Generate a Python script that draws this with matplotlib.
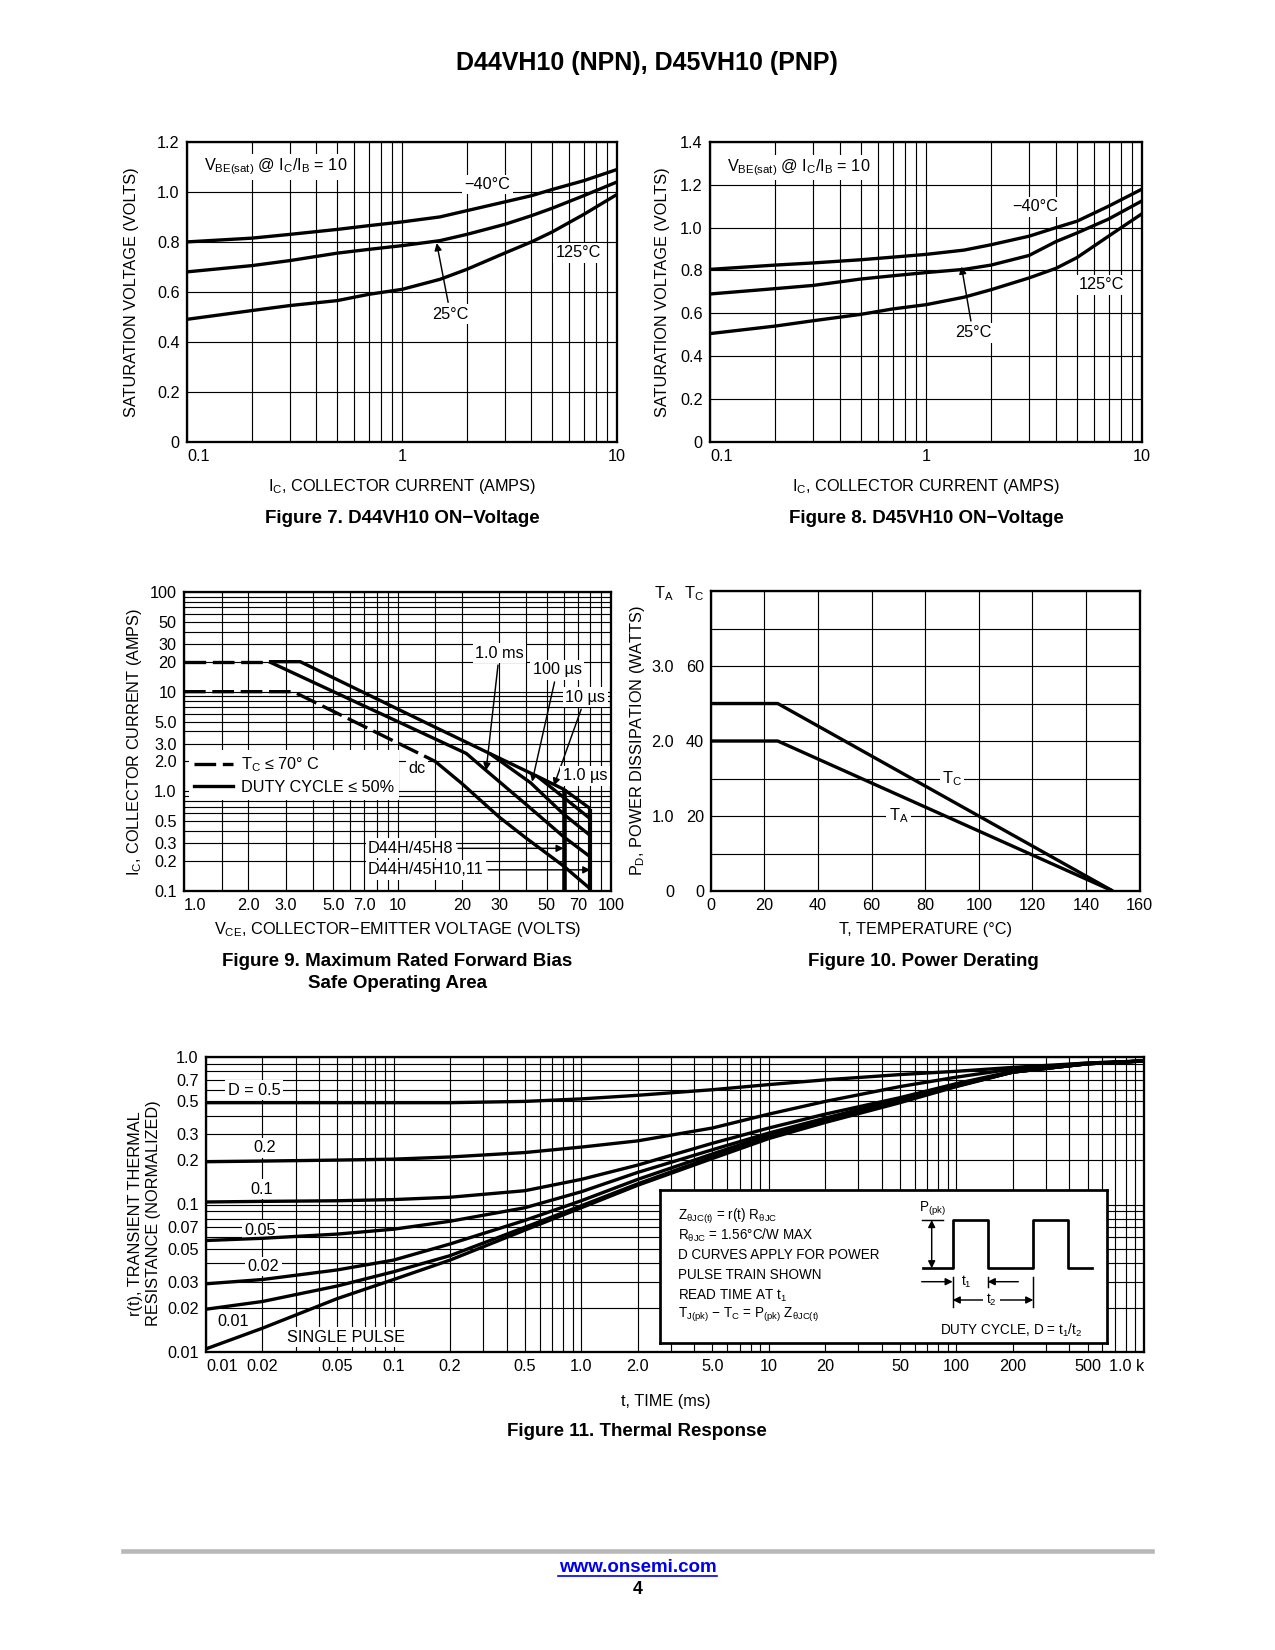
import numpy as np
import matplotlib.pyplot as plt
from matplotlib import font_manager
from matplotlib.lines import Line2D
from matplotlib.ticker import FixedLocator, LogLocator, NullFormatter

installed = {f.name for f in font_manager.fontManager.ttflist}
SANS = 'Liberation Sans' if 'Liberation Sans' in installed else 'DejaVu Sans'
NARROW = 'Liberation Sans Narrow' if 'Liberation Sans Narrow' in installed else SANS
plt.rcParams['font.family'] = [SANS, 'DejaVu Sans']
plt.rcParams['mathtext.fontset'] = 'custom'
plt.rcParams['mathtext.rm'] = SANS
plt.rcParams['mathtext.default'] = 'regular'

# ---------------- data ----------------
# Figure 7: D44VH10 V_BE(sat) vs I_C
ic7 = [0.1, 0.2, 0.3, 0.5, 0.7, 1, 1.5, 2, 3, 4, 5, 7, 10]
vbe7_m40 = [0.80, 0.815, 0.83, 0.85, 0.865, 0.88, 0.90, 0.925, 0.96, 0.985, 1.01, 1.045, 1.09]
vbe7_25 = [0.68, 0.705, 0.725, 0.755, 0.77, 0.785, 0.805, 0.83, 0.87, 0.905, 0.935, 0.985, 1.04]
vbe7_125 = [0.49, 0.525, 0.545, 0.565, 0.59, 0.61, 0.65, 0.69, 0.755, 0.80, 0.84, 0.91, 0.99]

# Figure 8: D45VH10 V_BE(sat) vs I_C
ic8 = [0.1, 0.2, 0.3, 0.5, 0.7, 1, 1.5, 2, 3, 4, 5, 7, 10]
vbe8_m40 = [0.805, 0.825, 0.835, 0.85, 0.862, 0.875, 0.895, 0.92, 0.96, 1.0, 1.03, 1.10, 1.18]
vbe8_25 = [0.69, 0.715, 0.73, 0.76, 0.775, 0.79, 0.805, 0.825, 0.87, 0.935, 0.975, 1.04, 1.125]
vbe8_125 = [0.505, 0.54, 0.565, 0.595, 0.62, 0.64, 0.675, 0.71, 0.765, 0.81, 0.86, 0.96, 1.065]

# Figure 9: safe operating area
soa_dc_tc_v = [1.0, 3.25, 15]          # Tc <= 70 C (dashed)
soa_dc_tc_i = [10, 10, 2.0]
soa_20a_tc_v = [1.0, 2.5]
soa_20a_tc_i = [20, 20]
soa_dc_v = [15, 20, 30, 40, 60, 80]
soa_dc_i = [2.0, 1.2, 0.55, 0.34, 0.178, 0.105]
soa_1ms_v = [2.5, 21, 26, 40, 60, 80]
soa_1ms_i = [20, 2.4, 1.62, 0.74, 0.35, 0.22]
soa_100us_v = [27, 42, 60, 80]
soa_100us_i = [2.4, 1.22, 0.59, 0.36]
soa_10us_v = [45, 60, 80]
soa_10us_i = [1.42, 0.87, 0.53]
soa_1us_v = [2.5, 3.5, 15, 27, 45, 60, 80]
soa_1us_i = [20, 20, 4.4, 2.4, 1.42, 1.05, 0.67]
limit_h8_v, limit_h8_i = [60, 60], [1.05, 0.1]
limit_h10_v, limit_h10_i = [80, 80], [0.67, 0.1]

# Figure 10: power derating
tc_temp = [0, 25, 150]
tc_power = [50, 50, 0]
ta_temp = [0, 25, 150]
ta_power = [2.0, 2.0, 0]

# Figure 11: thermal response
t_ms = [0.01, 0.02, 0.05, 0.1, 0.2, 0.5, 1, 2, 5, 10, 20, 50, 100, 200, 500, 1000]
r_d50 = [0.49, 0.49, 0.49, 0.49, 0.49, 0.50, 0.52, 0.55, 0.60, 0.65, 0.70, 0.76, 0.80, 0.85, 0.91, 0.94]
r_d20 = [0.195, 0.197, 0.20, 0.203, 0.21, 0.225, 0.245, 0.27, 0.33, 0.41, 0.50, 0.63, 0.73, 0.83, 0.91, 0.94]
r_d10 = [0.104, 0.105, 0.106, 0.108, 0.112, 0.124, 0.148, 0.185, 0.26, 0.33, 0.41, 0.53, 0.66, 0.80, 0.90, 0.94]
r_d05 = [0.057, 0.059, 0.063, 0.068, 0.077, 0.095, 0.122, 0.165, 0.235, 0.305, 0.385, 0.52, 0.65, 0.79, 0.90, 0.94]
r_d02 = [0.029, 0.031, 0.036, 0.042, 0.054, 0.078, 0.106, 0.148, 0.22, 0.295, 0.375, 0.51, 0.64, 0.79, 0.90, 0.94]
r_d01 = [0.0195, 0.022, 0.028, 0.035, 0.045, 0.07, 0.098, 0.138, 0.21, 0.285, 0.365, 0.50, 0.635, 0.79, 0.90, 0.94]
r_single = [0.0105, 0.0145, 0.023, 0.031, 0.042, 0.067, 0.095, 0.135, 0.205, 0.28, 0.36, 0.49, 0.63, 0.79, 0.90, 0.94]

# ---------------- drawing ----------------
W, H = 1275, 1650
FS = 7.8
LW = 1.6
WHITE = dict(facecolor='white', edgecolor='none', pad=1.2)
ARROW = dict(arrowstyle='-|>', color='black', lw=0.7, mutation_scale=7,
             shrinkA=1, shrinkB=0)
DASH = (0, (6.5, 2))

fig = plt.figure(figsize=(W / 150, H / 150), dpi=150)


def box(left, top, right, bottom):
    return [left / W, 1 - bottom / H, (right - left) / W, (bottom - top) / H]


def prep(ax):
    ax.set_axisbelow(True)
    ax.grid(True, which='both', color='black', linewidth=0.55)
    ax.tick_params(which='both', length=0, labelsize=FS, pad=3.5)
    for sp in ax.spines.values():
        sp.set_linewidth(1.1)


def curve(ax, x, y, **kw):
    kw.setdefault('lw', LW)
    ax.plot(x, y, color='black', zorder=4, solid_capstyle='butt', **kw)


# ---- Figures 7 and 8 ----
vbe_panels = [
    (box(187, 142, 617, 441.7), ic7, [vbe7_m40, vbe7_25, vbe7_125], 1.2,
     [(2.5, 1.03), (6.6, 0.757), (1.68, 0.51), (1.45, 0.795)], 1.1,
     -0.128, 'Figure 7. D44VH10 ON\u2212Voltage'),
    (box(710, 142, 1142, 441.7), ic8, [vbe8_m40, vbe8_25, vbe8_125], 1.4,
     [(3.2, 1.097), (6.46, 0.734), (1.65, 0.508), (1.46, 0.818)], 1.28,
     -0.109, 'Figure 8. D45VH10 ON\u2212Voltage'),
]
for rect, ic, series, ytop, pos, yhead, ylab_x, caption in vbe_panels:
    ax = fig.add_axes(rect)
    ax.set_xscale('log')
    ax.set_xlim(0.1, 10)
    ax.set_ylim(0, ytop)
    ax.set_xticks([0.1, 1, 10], ['0.1', '1', '10'])
    ax.xaxis.set_minor_locator(LogLocator(base=10, subs=np.arange(2, 10), numticks=20))
    ax.xaxis.set_minor_formatter(NullFormatter())
    yt = np.round(np.arange(0, ytop + 0.01, 0.2), 1)
    ax.set_yticks(yt, ['0'] + [f'{v:.1f}' for v in yt[1:]])
    prep(ax)
    ax.get_xticklabels()[0].set_ha('left')
    for s in series:
        curve(ax, ic, s)
    ax.text(*pos[0], '\u221240\u00b0C', fontsize=FS, ha='center', va='center', bbox=WHITE)
    ax.text(*pos[1], '125\u00b0C', fontsize=FS, ha='center', va='center', bbox=WHITE)
    ax.annotate('25\u00b0C', xy=pos[3], xytext=pos[2], fontsize=FS, ha='center',
                va='center', bbox=WHITE, arrowprops=ARROW)
    ax.text(0.12, yhead, '$V_{BE(sat)}$ @ $I_C/I_B$ = 10', fontsize=FS,
            ha='left', va='center', bbox=WHITE)
    ax.set_xlabel('$I_C$, COLLECTOR CURRENT (AMPS)', fontsize=FS)
    ax.xaxis.set_label_coords(0.5, -0.151)
    ax.xaxis.label.set_va('center')
    ax.set_ylabel('SATURATION VOLTAGE (VOLTS)', fontsize=FS)
    ax.yaxis.set_label_coords(ylab_x, 0.5)
    ax.yaxis.label.set_va('center')
    bb = ax.get_position()
    fig.text(bb.x0 + bb.width / 2, 1 - 518.6 / H, caption, fontsize=9,
             fontweight='bold', ha='center', va='center')

# ---- Figure 9 ----
ax9 = fig.add_axes(box(184, 592, 611, 891))
ax9.set_xscale('log')
ax9.set_yscale('log')
ax9.set_xlim(1, 100)
ax9.set_ylim(0.1, 100)
vce_ticks = [1, 2, 3, 5, 7, 10, 20, 30, 50, 70, 100]
vce_labels = ['1.0', '2.0', '3.0', '5.0', '7.0', '10', '20', '30', '50', '70', '100']
ic9_ticks = [0.1, 0.2, 0.3, 0.5, 1, 2, 3, 5, 10, 20, 30, 50, 100]
ic9_labels = ['0.1', '0.2', '0.3', '0.5', '1.0', '2.0', '3.0', '5.0', '10', '20', '30', '50', '100']
ax9.set_xticks(vce_ticks, vce_labels)
ax9.set_yticks(ic9_ticks, ic9_labels)
ax9.xaxis.set_minor_locator(FixedLocator([1.5, 4, 6, 8, 9, 15, 40, 60, 80, 90]))
ax9.yaxis.set_minor_locator(LogLocator(base=10, subs=np.arange(2, 10), numticks=20))
ax9.xaxis.set_minor_formatter(NullFormatter())
ax9.yaxis.set_minor_formatter(NullFormatter())
prep(ax9)
ax9.get_xticklabels()[0].set_ha('left')
curve(ax9, soa_dc_tc_v, soa_dc_tc_i, ls=DASH)
curve(ax9, soa_20a_tc_v, soa_20a_tc_i, ls=DASH)
for v, i in [(soa_dc_v, soa_dc_i), (soa_1ms_v, soa_1ms_i), (soa_100us_v, soa_100us_i),
             (soa_10us_v, soa_10us_i), (soa_1us_v, soa_1us_i)]:
    curve(ax9, v, i)
curve(ax9, limit_h8_v, limit_h8_i, lw=2.2)
curve(ax9, limit_h10_v, limit_h10_i, lw=2.0)
ax9.annotate('1.0 ms', xy=(26, 1.62), xytext=(30, 24.4), fontsize=FS, ha='center',
             va='center', bbox=WHITE, arrowprops=ARROW)
ax9.annotate('100 \u00b5s', xy=(42.7, 1.25), xytext=(56, 16.5), fontsize=FS, ha='center',
             va='center', bbox=WHITE, arrowprops=ARROW)
ax9.annotate('10 \u00b5s', xy=(54, 1.14), xytext=(75.9, 8.77), fontsize=FS, ha='center',
             va='center', bbox=WHITE, arrowprops=ARROW)
ax9.text(75.6, 1.43, '1.0 \u00b5s', fontsize=FS, ha='center', va='center', bbox=WHITE)
ax9.text(12.3, 1.70, 'dc', fontsize=FS, ha='center', va='center', bbox=WHITE)
ax9.annotate('D44H/45H8', xy=(60, 0.268), xytext=(7.28, 0.268), fontsize=FS, ha='left',
             va='center', bbox=WHITE, arrowprops=ARROW)
ax9.annotate('D44H/45H10,11', xy=(80, 0.163), xytext=(7.28, 0.163), fontsize=FS, ha='left',
             va='center', bbox=WHITE, arrowprops=ARROW)
leg = ax9.legend(handles=[Line2D([], [], color='black', lw=LW, ls=DASH),
                          Line2D([], [], color='black', lw=LW)],
                 labels=['$T_C$ \u2264 70\u00b0 C', 'DUTY CYCLE \u2264 50%'],
                 loc='upper left', bbox_to_anchor=(0.012, 0.47), borderaxespad=0,
                 fontsize=FS, frameon=True, fancybox=False, framealpha=1,
                 edgecolor='none', handlelength=2.4, handletextpad=0.5,
                 labelspacing=0.35, borderpad=0.3)
leg.set_zorder(3)
ax9.set_xlabel('$V_{CE}$, COLLECTOR\u2212EMITTER VOLTAGE (VOLTS)', fontsize=FS)
ax9.xaxis.set_label_coords(0.5, -0.129)
ax9.xaxis.label.set_va('center')
ax9.set_ylabel('$I_C$, COLLECTOR CURRENT (AMPS)', fontsize=FS)
ax9.yaxis.set_label_coords(-0.117, 0.5)
ax9.yaxis.label.set_va('center')
fig.text(397 / W, 1 - 961 / H, 'Figure 9. Maximum Rated Forward Bias', fontsize=9,
         fontweight='bold', ha='center', va='center')
fig.text(397 / W, 1 - 984 / H, 'Safe Operating Area', fontsize=9,
         fontweight='bold', ha='center', va='center')

# ---- Figure 10 ----
ax10 = fig.add_axes(box(710.7, 591, 1139.6, 891))
ax10.set_xlim(0, 160)
ax10.set_ylim(0, 80)
ax10.set_xticks(np.arange(0, 161, 20))
ax10.set_yticks([0, 20, 40, 60, 80], ['0', '20', '40', '60', '$T_C$'])
ax10.yaxis.set_minor_locator(FixedLocator([10, 30, 50, 70]))
prep(ax10)
ax10.tick_params(axis='y', pad=3.2)
curve(ax10, tc_temp, tc_power)
ax10.text(90, 30, '$T_C$', fontsize=FS, ha='center', va='center', bbox=WHITE)
ax10.text(70, 20, '$T_A$', fontsize=FS, ha='center', va='center', bbox=WHITE)
ax10b = ax10.twinx()
ax10b.set_ylim(0, 4)
ax10b.yaxis.set_ticks_position('left')
ax10b.set_yticks([0, 1, 2, 3, 4], ['0', '1.0', '2.0', '3.0', '$T_A$'])
ax10b.tick_params(axis='y', length=0, labelsize=FS, pad=17.6)
for sp in ax10b.spines.values():
    sp.set_visible(False)
curve(ax10b, ta_temp, ta_power)
ax10.set_xlabel('T, TEMPERATURE (\u00b0C)', fontsize=FS)
ax10.xaxis.set_label_coords(0.5, -0.129)
ax10.xaxis.label.set_va('center')
ax10.set_ylabel('$P_D$, POWER DISSIPATION (WATTS)', fontsize=FS)
ax10.yaxis.set_label_coords(-0.170, 0.5)
ax10.yaxis.label.set_va('center')
fig.text(923 / W, 1 - 961 / H, 'Figure 10. Power Derating', fontsize=9,
         fontweight='bold', ha='center', va='center')

# ---- Figure 11 ----
ax11 = fig.add_axes(box(206, 1057, 1144, 1352))
ax11.set_xscale('log')
ax11.set_yscale('log')
ax11.set_xlim(0.01, 1000)
ax11.set_ylim(0.01, 1.0)
t_ticks = [0.01, 0.02, 0.05, 0.1, 0.2, 0.5, 1, 2, 5, 10, 20, 50, 100, 200, 500, 1000]
t_labels = ['0.01', '0.02', '0.05', '0.1', '0.2', '0.5', '1.0', '2.0', '5.0', '10', '20',
            '50', '100', '200', '500', '1.0 k']
r_ticks = [0.01, 0.02, 0.03, 0.05, 0.07, 0.1, 0.2, 0.3, 0.5, 0.7, 1.0]
r_labels = ['0.01', '0.02', '0.03', '0.05', '0.07', '0.1', '0.2', '0.3', '0.5', '0.7', '1.0']
ax11.set_xticks(t_ticks, t_labels)
ax11.set_yticks(r_ticks, r_labels)
ax11.xaxis.set_minor_locator(LogLocator(base=10, subs=np.arange(2, 10), numticks=30))
ax11.yaxis.set_minor_locator(LogLocator(base=10, subs=np.arange(2, 10), numticks=30))
ax11.xaxis.set_minor_formatter(NullFormatter())
ax11.yaxis.set_minor_formatter(NullFormatter())
prep(ax11)
ax11.get_xticklabels()[0].set_ha('left')
ax11.get_xticklabels()[-1].set_ha('right')
for r in [r_d50, r_d20, r_d10, r_d05, r_d02, r_d01, r_single]:
    curve(ax11, t_ms, r)
d_labels = ['D = 0.5', '0.2', '0.1', '0.05', '0.02', '0.01', 'SINGLE PULSE']
d_pos = [(0.018, 0.597), (0.0206, 0.243), (0.0198, 0.127), (0.0194, 0.067),
         (0.0203, 0.038), (0.014, 0.016), (0.0556, 0.0126)]
for lab, (x, y) in zip(d_labels, d_pos):
    ax11.text(x, y, lab, fontsize=FS, ha='center', va='center', bbox=WHITE)
ax11.set_xlabel('t, TIME (ms)', fontsize=FS)
ax11.xaxis.set_label_coords(0.49, -0.169)
ax11.xaxis.label.set_va('center')
ax11.set_ylabel('r(t), TRANSIENT THERMAL\nRESISTANCE (NORMALIZED)', fontsize=FS,
                linespacing=1.25)
ax11.yaxis.set_label_coords(-0.066, 0.47)
ax11.yaxis.label.set_va('center')
fig.text(636.6 / W, 1 - 1431 / H, 'Figure 11. Thermal Response', fontsize=9,
         fontweight='bold', ha='center', va='center')

# inset note with pulse train sketch (local pixel frame)
ins = fig.add_axes(box(660, 1190, 1107, 1343.3), zorder=5)
ins.set_xlim(0, 447)
ins.set_ylim(153.3, 0)
ins.set_xticks([])
ins.set_yticks([])
ins.set_facecolor('white')
for sp in ins.spines.values():
    sp.set_linewidth(1.3)
NFS = 7.6 if NARROW != SANS else 6.5
notes = ['$Z_{\u03b8JC(t)}$ = r(t) $R_{\u03b8JC}$',
         '$R_{\u03b8JC}$ = 1.56\u00b0C/W MAX',
         'D CURVES APPLY FOR POWER',
         'PULSE TRAIN SHOWN',
         'READ TIME AT $t_1$',
         '$T_{J(pk)}$ \u2212 $T_C$ = $P_{(pk)}$ $Z_{\u03b8JC(t)}$']
note_y = [26.7, 45, 65, 85, 105.7, 125]
for txt, y in zip(notes, note_y):
    ins.text(18.3, y, txt, fontsize=NFS, family=NARROW, ha='left', va='center')
pulse_x = [263.3, 292.7, 292.7, 327.7, 327.7, 373.3, 373.3, 408.3, 408.3, 431.7]
pulse_y = [78.3, 78.3, 30, 30, 78.3, 78.3, 30, 30, 78.3, 78.3]
ins.plot(pulse_x, pulse_y, color='black', lw=1.3)
thin = dict(color='black', lw=0.7)
ins.plot([261.7, 283.3], [30, 30], **thin)
ins.plot([327.7, 327.7], [86.7, 96.7], **thin)
ins.plot([292.7, 292.7], [86.7, 116.7], **thin)
ins.plot([373.3, 373.3], [86.7, 116.7], **thin)
two = dict(arrowstyle='<|-|>', color='black', lw=0.7, mutation_scale=7, shrinkA=0, shrinkB=0)
one = dict(arrowstyle='-|>', color='black', lw=0.7, mutation_scale=7, shrinkA=0, shrinkB=0)
ins.annotate('', xy=(271.7, 30), xytext=(271.7, 78.3), arrowprops=two)
ins.annotate('', xy=(292.7, 91.7), xytext=(261.7, 91.7), arrowprops=one)
ins.annotate('', xy=(327.7, 91.7), xytext=(358.3, 91.7), arrowprops=one)
ins.annotate('', xy=(292.7, 110), xytext=(373.3, 110), arrowprops=two)
ins.text(272, 18.5, '$P_{(pk)}$', fontsize=NFS, family=NARROW, ha='center', va='center')
ins.text(306.7, 91.7, '$t_1$', fontsize=NFS, family=NARROW, ha='center', va='center')
ins.text(331.7, 110, '$t_2$', fontsize=NFS, family=NARROW, ha='center', va='center',
         bbox=dict(facecolor='white', edgecolor='none', pad=1.5))
ins.text(350.8, 140, 'DUTY CYCLE, D = $t_1/t_2$', fontsize=NFS, family=NARROW,
         ha='center', va='center')

# ---- page header / footer ----
fig.text(647 / W, 1 - 63 / H, 'D44VH10 (NPN), D45VH10 (PNP)', fontsize=12,
         fontweight='bold', ha='center', va='center')
fig.add_artist(Line2D([123 / W, 1152 / W], [1 - 1551 / H] * 2, color='#b8b8b8', lw=2.2))
fig.text(637.5 / W, 1 - 1568 / H, 'www.onsemi.com', fontsize=9, fontweight='bold',
         color='#0000ee', ha='center', va='center')
fig.add_artist(Line2D([558 / W, 717 / W], [1 - 1576 / H] * 2, color='#0000ee', lw=0.8))
fig.text(637.5 / W, 1 - 1589 / H, '4', fontsize=8.5, fontweight='bold',
         ha='center', va='center')

fig.savefig('out.png', dpi=150, facecolor='white')
